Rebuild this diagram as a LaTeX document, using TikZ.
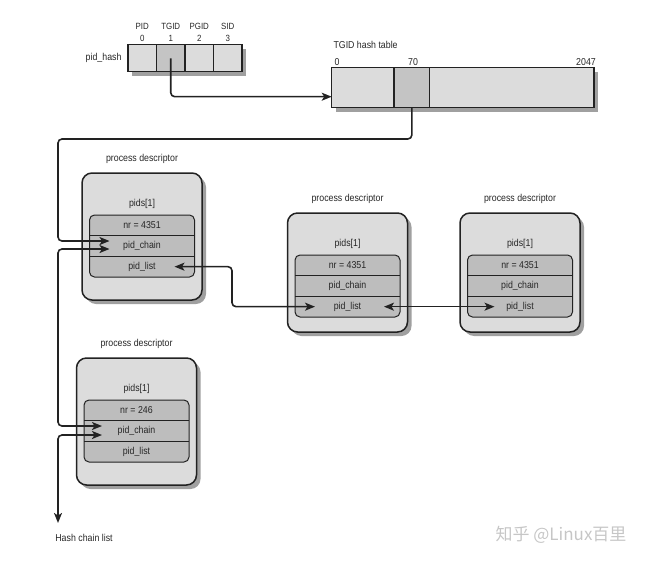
\documentclass[tikz,border=0pt]{standalone}
\usepackage{fontspec}
\setmainfont{Liberation Sans}[FakeStretch=0.88]
\newfontfamily\cjkfont{Noto Sans CJK SC}
\usetikzlibrary{calc,shadows,arrows.meta}
\definecolor{lightfill}{HTML}{DCDCDC}
\definecolor{darkfill}{HTML}{C4C4C4}
\definecolor{innerfill}{HTML}{BDBDBD}
\definecolor{lineclr}{HTML}{222222}
\definecolor{shadowclr}{HTML}{A0A0A0}
\tikzset{
  every node/.style={font=\fontsize{10}{12}\selectfont, text=black!85},
  shadowed/.style={drop shadow={shadow xshift=4pt,shadow yshift=-4pt,fill=shadowclr,opacity=1}},
  cell/.style={draw=lineclr, line width=1.3pt, fill=lightfill, minimum height=27pt, inner sep=0pt, outer sep=0pt, shadowed},
  outerbox/.style={draw=lineclr, line width=1.5pt, fill=lightfill, rounded corners=10pt, minimum width=120pt, inner sep=0pt, outer sep=0pt, shadowed},
  innerbox/.style={draw=lineclr, line width=1pt, fill=innerfill, rounded corners=5pt, minimum width=105pt, minimum height=62pt, inner sep=0pt, outer sep=0pt},
  rowbox/.style={minimum width=105pt, minimum height=20.67pt, inner sep=0pt, outer sep=0pt},
  divider/.style={draw=lineclr, line width=0.9pt},
  link/.style={draw=lineclr, line width=1.6pt, rounded corners=4pt},
  arr/.style={-{Stealth[length=10pt,width=8pt,inset=2.5pt]}},
  darr/.style={{Stealth[length=10pt,width=8pt,inset=2.5pt]}-{Stealth[length=10pt,width=8pt,inset=2.5pt]}},
}
% #1 name, #2 centre x, #3 top y, #4 height, #5 nr value
\newcommand\pdesc[5]{%
  \node[outerbox, minimum height=#4, anchor=north] (#1) at (#2,#3) {};
  \node (#1-t) at ($(#1.north)+(0,-14)$) {process descriptor};
  \node[innerbox, anchor=north] (#1-in) at ($(#1.north)+(0,42)$) {};
  \node (#1-p) at ($(#1-in.north)+(0,-11)$) {pids[1]};
  \node[rowbox, anchor=north] (#1-nr) at (#1-in.north) {nr = #5};
  \node[rowbox, anchor=north] (#1-ch) at (#1-nr.south) {pid\_chain};
  \node[rowbox, anchor=north] (#1-ls) at (#1-ch.south) {pid\_list};
  \draw[divider] (#1-ch.north west) -- (#1-ch.north east);
  \draw[divider] (#1-ls.north west) -- (#1-ls.north east);
}
\begin{document}
\begin{tikzpicture}[x=1pt,y=-1pt]
\useasboundingbox (0,0) rectangle (655,567);

% pid_hash array
\node[cell, minimum width=28.5pt] (c0) at (142.25,58.3) {};
\node[cell, minimum width=28.5pt, fill=darkfill, anchor=west] (c1) at (c0.east) {};
\node[cell, minimum width=28.5pt, anchor=west] (c2) at (c1.east) {};
\node[cell, minimum width=28.5pt, anchor=west] (c3) at (c2.east) {};
\node[anchor=east] (ph) at ($(c0.west)+(-3,0)$) {pid\_hash};
\foreach \c/\t/\n in {c0/PID/0, c1/TGID/1, c2/PGID/2, c3/SID/3}{
  \node[align=center, anchor=south, inner sep=1pt, font=\fontsize{9}{12.5}\selectfont] (\c-lab) at ($(\c.north)+(0,-2)$) {\t\\\n};
}

% TGID hash table
\node[cell, minimum width=62.3pt, minimum height=40pt] (ht0) at (362.85,87.7) {};
\node[cell, minimum width=35.7pt, minimum height=40pt, fill=darkfill, anchor=west] (ht70) at (ht0.east) {};
\node[cell, minimum width=164.3pt, minimum height=40pt, anchor=west] (ht2) at (ht70.east) {};
\node[anchor=west] (htt) at (330,45) {TGID hash table};
\node (h0) at (337,62) {0};
\node (h70) at (413,62) {70};
\node (h2047) at (586,62) {2047};

% process descriptors
\pdesc{d1}{142}{173}{127pt}{4351}
\pdesc{d2}{347.5}{213}{119pt}{4351}
\pdesc{d3}{520}{213}{119pt}{4351}
\pdesc{d4}{136.5}{358}{127pt}{246}

\node (hcl) at (84,538) {Hash chain list};

% helper coordinates
\coordinate (rail) at (58,0);
\coordinate (railtop) at (58,139);
\coordinate (jog) at (232,0);
\coordinate (hclend) at (58,523);
\coordinate (tgtop) at ($(ht0.west)+(0,9)$);
\coordinate (d1a) at ($(d1-ch.west)+(20,-5)$);
\coordinate (d1b) at ($(d1-ch.west)+(20,3)$);
\coordinate (d4a) at ($(d4-ch.west)+(18,-5)$);
\coordinate (d4b) at ($(d4-ch.west)+(18,4)$);
\coordinate (d1L) at ($(d1-ls.east)+(-20,0)$);
\coordinate (d2R) at ($(d2-ls.west)+(20,0)$);
\coordinate (d2L) at ($(d2-ls.east)+(-16,0)$);
\coordinate (d3R) at ($(d3-ls.west)+(27,0)$);

% connectors
\draw[link, arr] (c1.center) |- (tgtop);
\draw[link, arr] (ht70.south) |- (railtop) |- (d1a);
\draw[link, darr] (d1b) -- (d1b -| rail) -- (d4a -| rail) -- (d4a);
\draw[link, darr] (d4b) -- (d4b -| rail) -- (hclend);
\draw[link, darr] (d1L) -- (d1L -| jog) -- (d2R -| jog) -- (d2R);
\draw[link, darr] (d2L) -- (d3R);

% watermark
\node[text=gray!45, font=\cjkfont\fontsize{17}{20}\selectfont] (wm) at (561,535) {知乎 @Linux百里};
\end{tikzpicture}
\end{document}
